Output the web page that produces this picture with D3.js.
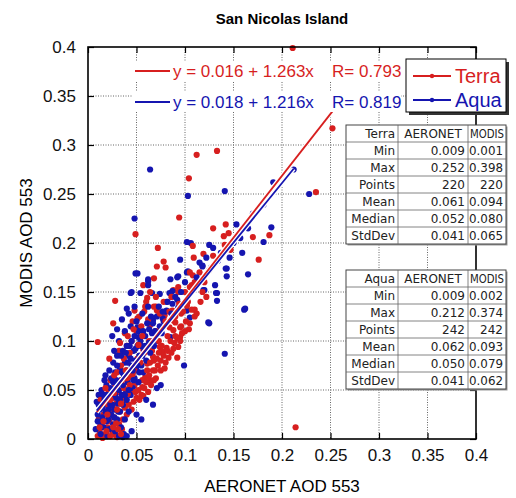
<!DOCTYPE html>
<html>
<head>
<meta charset="utf-8">
<script src="https://cdn.jsdelivr.net/npm/d3@7"></script>
<style>
  body { margin: 0; background: #fff; }
  svg { display: block; font-family: "Liberation Sans", Arial, sans-serif; }
</style>
</head>
<body>
<svg id="chart"></svg>
<script>
// ---- data ----
const xTicks = [0, 0.05, 0.1, 0.15, 0.2, 0.25, 0.3, 0.35, 0.4];
const yTicks = [0, 0.05, 0.1, 0.15, 0.2, 0.25, 0.3, 0.35, 0.4];

const terraPoints = [
  [0.211,0.399],[0.252,0.317],[0.112,0.290],[0.133,0.294],[0.104,0.266],[0.094,0.226],
  [0.049,0.209],[0.072,0.195],[0.129,0.215],[0.142,0.219],[0.140,0.207],[0.145,0.210],
  [0.170,0.206],[0.187,0.208],[0.176,0.183],[0.078,0.181],[0.080,0.175],[0.071,0.176],
  [0.109,0.185],[0.119,0.189],[0.129,0.187],[0.108,0.197],[0.141,0.198],[0.147,0.193],
  [0.108,0.167],[0.068,0.164],[0.010,0.099],[0.026,0.118],[0.028,0.141],[0.214,0.012],
  [0.235,0.252],[0.057,0.157],
  [0.088,0.152],[0.093,0.150],[0.110,0.160],[0.113,0.162],[0.107,0.157],[0.048,0.131],
  [0.051,0.123],[0.061,0.144],[0.059,0.135],[0.070,0.135],[0.071,0.131],[0.079,0.126],
  [0.088,0.121],[0.096,0.128],[0.110,0.132],[0.084,0.114],[0.088,0.111],[0.095,0.104],
  [0.064,0.116],[0.052,0.111],
  [0.095,0.114],[0.092,0.103],[0.074,0.094],[0.081,0.093],[0.067,0.084],[0.077,0.089],
  [0.061,0.077],[0.059,0.063],[0.056,0.053],[0.064,0.060],[0.069,0.070],[0.105,0.155],
  [0.112,0.128],[0.102,0.136],[0.090,0.119],[0.087,0.131],[0.074,0.109],
  [0.081,0.118],[0.057,0.091],[0.051,0.082],
  [0.010,0.003],[0.012,0.008],[0.015,0.001],[0.018,0.005],[0.014,0.015],[0.011,0.020],
  [0.016,0.025],[0.020,0.012],[0.022,0.018],[0.025,0.008],[0.028,0.004],[0.030,0.002],
  [0.024,0.030],[0.019,0.035],[0.013,0.040],[0.027,0.022],[0.032,0.015],[0.035,0.010],
  [0.017,0.045],[0.021,0.050],[0.026,0.042],[0.029,0.036],[0.033,0.028],[0.036,0.020],
  [0.038,0.032],[0.040,0.025],[0.023,0.060],[0.028,0.055],[0.031,0.048],[0.035,0.044],
  [0.039,0.040],[0.042,0.035],[0.045,0.030],[0.047,0.038],[0.044,0.048],[0.050,0.042],
  [0.052,0.050],[0.048,0.055],[0.055,0.045],[0.058,0.052],[0.056,0.060],[0.060,0.058],
  [0.062,0.048],[0.065,0.055],[0.063,0.065],[0.067,0.070],[0.070,0.062],[0.072,0.075],
  [0.068,0.080],[0.075,0.070],[0.078,0.085],[0.080,0.078],[0.082,0.090],[0.076,0.095],
  [0.085,0.100],[0.088,0.092],[0.090,0.105],[0.073,0.088],[0.092,0.083],[0.066,0.090],
  [0.030,0.068],[0.034,0.075],[0.037,0.082],[0.032,0.090],[0.040,0.095],[0.043,0.088],
  [0.045,0.100],[0.038,0.108],[0.050,0.110],[0.046,0.120],[0.055,0.115],[0.053,0.125],
  [0.058,0.130],[0.062,0.122],[0.060,0.140],[0.064,0.150],[0.068,0.135],[0.070,0.145],
  [0.074,0.128],[0.078,0.140],[0.080,0.120],[0.084,0.130],[0.086,0.145],[0.090,0.125],
  [0.094,0.138],[0.096,0.115],[0.098,0.130],[0.100,0.150],[0.103,0.140],[0.105,0.170],
  [0.115,0.170],[0.120,0.160],[0.125,0.172],[0.093,0.155],[0.082,0.105],
  [0.095,0.100],[0.100,0.110],[0.105,0.118],[0.110,0.125],[0.070,0.110],[0.073,0.100],
  [0.063,0.100],[0.058,0.088],[0.054,0.078],[0.048,0.070],[0.044,0.063],
  [0.012,0.012],[0.016,0.018],[0.019,0.008],[0.023,0.003],[0.026,0.012],[0.029,0.016],
  [0.031,0.010],[0.034,0.005],[0.020,0.025],[0.023,0.040],[0.018,0.052],[0.027,0.047],
  [0.030,0.030],[0.034,0.036],[0.037,0.052],[0.041,0.046],[0.043,0.055],[0.040,0.062],
  [0.046,0.066],[0.049,0.048],[0.053,0.040],[0.057,0.044],[0.061,0.070],[0.064,0.078],
  [0.068,0.060],[0.071,0.082],[0.075,0.080],[0.079,0.072],[0.083,0.083],[0.086,0.088],
  [0.089,0.098],[0.093,0.094],[0.097,0.108],[0.101,0.120],[0.104,0.112],[0.107,0.132],
  [0.116,0.140],[0.118,0.150],[0.122,0.145],[0.039,0.070],[0.035,0.060],[0.027,0.065],
  [0.022,0.082],[0.033,0.098],[0.041,0.105],[0.047,0.112],[0.052,0.096],[0.056,0.105]
];

const aquaPoints = [
  [0.064,0.275],[0.103,0.248],[0.141,0.253],[0.048,0.225],[0.191,0.262],[0.181,0.239],
  [0.189,0.216],[0.181,0.201],[0.153,0.219],[0.157,0.205],[0.159,0.190],[0.102,0.201],
  [0.106,0.200],[0.125,0.198],[0.129,0.195],[0.095,0.183],[0.118,0.176],[0.127,0.175],
  [0.134,0.182],[0.142,0.174],[0.165,0.168],[0.103,0.171],[0.093,0.166],[0.049,0.169],
  [0.062,0.163],[0.085,0.163],[0.161,0.132],[0.141,0.087],[0.099,0.075],[0.131,0.157],
  [0.133,0.149],[0.133,0.141],[0.125,0.118],[0.120,0.152],[0.067,0.035],[0.071,0.052],
  [0.044,0.149],[0.054,0.149],[0.040,0.133],[0.228,0.250],[0.212,0.275],
  [0.143,0.174],[0.118,0.177],[0.102,0.170],[0.092,0.165],[0.062,0.161],[0.062,0.157],
  [0.066,0.149],[0.074,0.148],[0.087,0.151],[0.084,0.149],[0.119,0.152],[0.132,0.149],
  [0.143,0.166],[0.108,0.152],[0.045,0.150],[0.051,0.169],[0.081,0.140],[0.087,0.138],
  [0.092,0.142],[0.081,0.131],[0.102,0.131],[0.105,0.124],[0.093,0.134],[0.077,0.123],
  [0.067,0.121],[0.081,0.119],[0.051,0.114],[0.052,0.104],[0.066,0.108],[0.074,0.109],
  [0.085,0.104],[0.124,0.119],[0.162,0.133],[0.150,0.200],[0.165,0.215],[0.170,0.230],
  [0.008,0.010],[0.010,0.018],[0.012,0.030],[0.009,0.038],[0.011,0.045],[0.013,0.005],
  [0.016,0.012],[0.015,0.022],[0.018,0.028],[0.017,0.040],[0.014,0.050],[0.020,0.003],
  [0.022,0.010],[0.021,0.020],[0.024,0.025],[0.023,0.035],[0.020,0.045],[0.019,0.055],
  [0.026,0.015],[0.028,0.008],[0.030,0.020],[0.027,0.030],[0.029,0.042],[0.025,0.050],
  [0.024,0.062],[0.032,0.003],[0.034,0.012],[0.033,0.028],[0.031,0.036],[0.035,0.045],
  [0.030,0.055],[0.028,0.068],[0.037,0.005],[0.038,0.020],[0.036,0.035],[0.040,0.040],
  [0.039,0.050],[0.034,0.060],[0.033,0.072],[0.042,0.028],[0.041,0.058],[0.044,0.045],
  [0.043,0.066],[0.038,0.078],[0.046,0.052],[0.045,0.075],[0.048,0.062],[0.042,0.085],
  [0.050,0.070],[0.049,0.080],[0.052,0.058],[0.047,0.090],[0.053,0.085],[0.055,0.075],
  [0.051,0.095],[0.057,0.068],[0.058,0.090],[0.054,0.100],[0.060,0.080],[0.062,0.095],
  [0.059,0.105],[0.064,0.088],[0.066,0.100],[0.063,0.112],[0.068,0.095],[0.070,0.108],
  [0.067,0.118],[0.072,0.100],[0.074,0.115],[0.071,0.125],[0.076,0.108],[0.078,0.120],
  [0.080,0.130],[0.045,0.100],[0.040,0.095],[0.036,0.090],[0.030,0.085],[0.026,0.078],
  [0.022,0.070],[0.018,0.065],[0.027,0.090],[0.032,0.100],[0.038,0.110],[0.044,0.115],
  [0.050,0.120],[0.056,0.128],[0.062,0.135],[0.048,0.135],[0.042,0.128],[0.035,0.122],
  [0.030,0.112],[0.025,0.105],[0.045,0.008],[0.040,0.003],[0.036,0.002],
  [0.010,0.025],[0.011,0.035],[0.013,0.015],[0.015,0.032],[0.016,0.045],[0.017,0.060],
  [0.019,0.018],[0.021,0.030],[0.022,0.040],[0.023,0.052],[0.025,0.035],[0.026,0.058],
  [0.027,0.022],[0.028,0.045],[0.029,0.060],[0.030,0.075],[0.031,0.028],[0.032,0.050],
  [0.033,0.040],[0.034,0.085],[0.035,0.068],[0.036,0.055],[0.037,0.065],[0.038,0.045],
  [0.039,0.088],[0.040,0.070],[0.041,0.078],[0.042,0.050],[0.043,0.095],[0.044,0.082],
  [0.046,0.070],[0.047,0.060],[0.048,0.105],[0.049,0.092],[0.051,0.075],[0.052,0.110],
  [0.053,0.068],[0.055,0.095],[0.056,0.085],[0.057,0.110],[0.059,0.095],[0.061,0.118],
  [0.063,0.098],[0.065,0.125],[0.069,0.110],[0.073,0.135],[0.077,0.130],[0.082,0.140],
  [0.086,0.128],[0.090,0.145],[0.096,0.150],[0.100,0.160],[0.112,0.165],[0.115,0.180],
  [0.122,0.185],[0.137,0.190],[0.146,0.185],[0.055,0.020],[0.050,0.025],[0.060,0.040],
  [0.075,0.055]
];

const seriesNames = ["Terra", "Aqua"];
const fitIntercept = [0.016, 0.018];
const fitSlope = [1.263, 1.216];
const fitR = [0.793, 0.819];

const statRows = ["Min", "Max", "Points", "Mean", "Median", "StdDev"];
const statCols = ["AERONET", "MODIS"];
const terraStats = [["0.009","0.001"],["0.252","0.398"],["220","220"],["0.061","0.094"],["0.052","0.080"],["0.041","0.065"]];
const aquaStats  = [["0.009","0.002"],["0.212","0.374"],["242","242"],["0.062","0.093"],["0.050","0.079"],["0.041","0.062"]];

// ---- layout ----
const W = 516, H = 498;
const pLeft = 88, pRight = 476, pTop = 47, pBottom = 439;
const colors = ["#d71f1f", "#1515b0"];

const svg = d3.select("#chart").attr("width", W).attr("height", H);

const x = d3.scaleLinear().domain([0, 0.4]).range([pLeft, pRight]);
const y = d3.scaleLinear().domain([0, 0.4]).range([pBottom, pTop]);
const fmt = d => d === 0 ? "0" : String(+d.toFixed(2));

/* grid */
const grid = svg.append("g").attr("stroke", "#666").attr("stroke-dasharray", "1,1.5").attr("stroke-width", 1);
grid.selectAll(".gx").data(xTicks.slice(1, -1)).enter().append("line")
  .attr("x1", d => x(d)).attr("x2", d => x(d)).attr("y1", pTop).attr("y2", pBottom);
grid.selectAll(".gy").data(yTicks.slice(1, -1)).enter().append("line")
  .attr("y1", d => y(d)).attr("y2", d => y(d)).attr("x1", pLeft).attr("x2", pRight);

/* points: the two satellites are interleaved so neither sits wholly on top */
const merged = [];
const nMax = Math.max(terraPoints.length, aquaPoints.length);
for (let k = 0; k < nMax; k++) {
  if (k < terraPoints.length) merged.push({ p: terraPoints[k], s: 0 });
  if (k < aquaPoints.length) merged.push({ p: aquaPoints[k], s: 1 });
}
svg.append("g").selectAll("circle").data(merged).enter().append("circle")
  .attr("cx", d => x(d.p[0])).attr("cy", d => y(d.p[1])).attr("r", 3.1)
  .attr("fill", d => colors[d.s]);

/* regression lines, drawn from the AERONET min to max */
const xRange = [[+terraStats[0][0], +terraStats[1][0]], [+aquaStats[0][0], +aquaStats[1][0]]];
const fitSeg = i => xRange[i].map(v => [x(v), y(fitIntercept[i] + fitSlope[i] * v)]);
[0, 1].forEach(i => {
  svg.append("path").attr("d", d3.line()(fitSeg(i))).attr("stroke", "#fff").attr("stroke-width", 4.5).attr("fill", "none");
});
[0, 1].forEach(i => {
  svg.append("path").attr("d", d3.line()(fitSeg(i))).attr("stroke", colors[i]).attr("stroke-width", 1.8).attr("fill", "none");
});

/* axes with inward ticks on all sides */
const axB = d3.axisBottom(x).tickValues(xTicks).tickSize(-6).tickPadding(10).tickFormat(fmt);
const axL = d3.axisLeft(y).tickValues(yTicks).tickSize(-6).tickPadding(12).tickFormat(fmt);
const axT = d3.axisTop(x).tickValues(xTicks).tickSize(-6).tickFormat("");
const axR = d3.axisRight(y).tickValues(yTicks).tickSize(-6).tickFormat("");

function styleAxis(g) {
  g.select(".domain").remove();
  g.selectAll("line").attr("stroke", "#000").attr("stroke-width", 1.2);
  g.selectAll("text").attr("font-size", 17).attr("fill", "#111")
    .attr("font-family", "'Liberation Sans', Arial, sans-serif");
}
svg.append("g").attr("transform", `translate(0,${pBottom})`).call(axB).call(styleAxis);
svg.append("g").attr("transform", `translate(${pLeft},0)`).call(axL).call(styleAxis);
svg.append("g").attr("transform", `translate(0,${pTop})`).call(axT).call(styleAxis);
svg.append("g").attr("transform", `translate(${pRight},0)`).call(axR).call(styleAxis);

svg.append("rect").attr("x", pLeft).attr("y", pTop).attr("width", pRight - pLeft).attr("height", pBottom - pTop)
  .attr("fill", "none").attr("stroke", "#000").attr("stroke-width", 1.6);

/* fit labels */
[0, 1].forEach(i => {
  const cy = 71 + i * 31;
  svg.append("rect").attr("x", 133).attr("y", cy - 10).attr("width", 268).attr("height", 20).attr("fill", "#fff");
  svg.append("line").attr("x1", 135).attr("x2", 170).attr("y1", cy).attr("y2", cy)
    .attr("stroke", colors[i]).attr("stroke-width", 2);
  svg.append("text").attr("x", 173).attr("y", cy + 6).attr("font-size", 17).attr("fill", colors[i])
    .text(`y = ${fitIntercept[i].toFixed(3)} + ${fitSlope[i].toFixed(3)}x`);
  svg.append("text").attr("x", 332).attr("y", cy + 6).attr("font-size", 17).attr("fill", colors[i])
    .text(`R= ${fitR[i].toFixed(3)}`);
});

/* legend */
const lg = svg.append("g");
lg.append("rect").attr("x", 409).attr("y", 62).attr("width", 100).attr("height", 53).attr("fill", "#333");
lg.append("rect").attr("x", 406).attr("y", 59).attr("width", 100).attr("height", 53)
  .attr("fill", "#fff").attr("stroke", "#000").attr("stroke-width", 1);
seriesNames.forEach((name, i) => {
  const cy = 76 + i * 24;
  lg.append("line").attr("x1", 413).attr("x2", 451).attr("y1", cy).attr("y2", cy)
    .attr("stroke", colors[i]).attr("stroke-width", 2);
  lg.append("circle").attr("cx", 432).attr("cy", cy).attr("r", 2.2).attr("fill", colors[i]);
  lg.append("text").attr("x", 455).attr("y", cy + 7).attr("font-size", 20).attr("fill", colors[i]).text(name);
});

/* stats tables */
function drawTable(name, stats, ty) {
  const colX = [346, 398, 468, 506];
  const rh = 17;
  const nRows = statRows.length + 1;
  const g = svg.append("g").attr("font-family", "'DejaVu Sans', sans-serif").attr("font-size", 12).attr("fill", "#222");
  g.append("rect").attr("x", colX[0] + 1.5).attr("y", ty + 1.5).attr("width", colX[3] - colX[0]).attr("height", rh * nRows)
    .attr("fill", "#999");
  g.append("rect").attr("x", colX[0]).attr("y", ty).attr("width", colX[3] - colX[0]).attr("height", rh * nRows)
    .attr("fill", "#fff").attr("stroke", "#444").attr("stroke-width", 1);
  for (let r = 1; r < nRows; r++) {
    g.append("line").attr("x1", colX[0]).attr("x2", colX[3]).attr("y1", ty + r * rh).attr("y2", ty + r * rh)
      .attr("stroke", "#666").attr("stroke-width", 0.8);
  }
  [1, 2].forEach(c => g.append("line").attr("x1", colX[c]).attr("x2", colX[c]).attr("y1", ty).attr("y2", ty + rh * nRows)
    .attr("stroke", "#666").attr("stroke-width", 0.8));
  const rows = [[name].concat(statCols)].concat(statRows.map((s, i) => [s].concat(stats[i])));
  rows.forEach((row, r) => {
    row.forEach((cell, c) => {
      const header = r === 0 && c > 0;
      const t = g.append("text")
        .attr("x", header ? (colX[c] + colX[c + 1]) / 2 : colX[c + 1] - 3)
        .attr("y", ty + r * rh + 13)
        .attr("text-anchor", header ? "middle" : "end").text(cell);
      const room = colX[c + 1] - colX[c] - 4;
      if (t.node().getComputedTextLength() > room) {
        t.attr("textLength", room).attr("lengthAdjust", "spacingAndGlyphs");
      }
    });
  });
}
drawTable(seriesNames[0], terraStats, 125);
drawTable(seriesNames[1], aquaStats, 270);

/* titles */
svg.append("text").attr("x", 282).attr("y", 24).attr("text-anchor", "middle")
  .attr("font-size", 15).attr("font-weight", "bold").text("San Nicolas Island");
svg.append("text").attr("x", 282).attr("y", 492).attr("text-anchor", "middle")
  .attr("font-size", 17).text("AERONET AOD 553");
svg.append("text").attr("transform", "translate(32,243) rotate(-90)").attr("text-anchor", "middle")
  .attr("font-size", 17).text("MODIS AOD 553");
</script>
</body>
</html>
